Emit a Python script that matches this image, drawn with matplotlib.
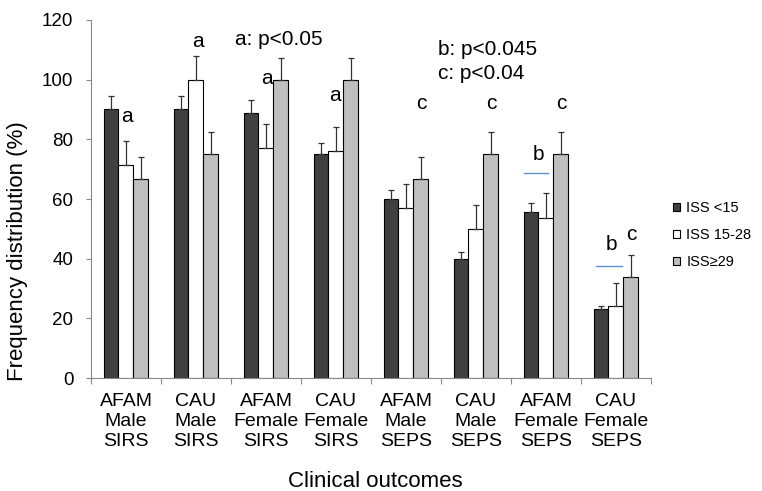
import numpy as np
import matplotlib
matplotlib.use('Agg')
import matplotlib.pyplot as plt
from matplotlib.patches import Patch

plt.rcParams['font.family'] = ['Liberation Sans', 'DejaVu Sans']

# data
categories = ['AFAM\nMale\nSIRS', 'CAU\nMale\nSIRS', 'AFAM\nFemale\nSIRS', 'CAU\nFemale\nSIRS',
              'AFAM\nMale\nSEPS', 'CAU\nMale\nSEPS', 'AFAM\nFemale\nSEPS', 'CAU\nFemale\nSEPS']
series_names = ['ISS <15', 'ISS 15-28', 'ISS\u226529']
iss_low = [90, 90, 88.7, 75, 60, 40, 55.5, 23]
iss_mid = [71.4, 100, 77, 76, 57, 50, 53.8, 24]
iss_high = [66.7, 75, 100, 100, 66.7, 75, 75, 34]
err_low = [4.5, 4.5, 4.6, 3.7, 3.0, 2.2, 3.0, 1.3]
err_mid = [8.0, 8.0, 8.0, 8.0, 8.0, 8.0, 8.1, 8.0]
err_high = [7.4, 7.3, 7.4, 7.4, 7.4, 7.3, 7.3, 7.3]

fig = plt.figure(figsize=(7.62, 4.91), dpi=100)
ax = fig.add_axes([0.1194, 0.2301, 0.8543 - 0.1194, 0.9593 - 0.2301])

x = np.arange(len(categories))
w = 0.214
colors = ['#404040', 'white', '#bfbfbf']
vals = [iss_low, iss_mid, iss_high]
errs = [err_low, err_mid, err_high]
for i in range(3):
    xs = x + (i - 1) * w
    ax.bar(xs, vals[i], width=w, color=colors[i], edgecolor='black', linewidth=0.8, zorder=2)
    ax.errorbar(xs, vals[i], yerr=[np.zeros(len(x)), errs[i]], fmt='none',
                ecolor='#333333', elinewidth=0.9, capsize=2.2, capthick=0.9, zorder=3)

ax.set_xlim(-0.5, len(categories) - 0.5)
ax.set_ylim(0, 120)
ax.set_yticks(np.arange(0, 121, 20))
ax.set_xticks(np.arange(-0.5, len(categories), 1))
ax.set_xticklabels([])
ax.set_xticks(x, minor=True)
ax.set_xticklabels(categories, minor=True, fontsize=14, linespacing=1.26)
ax.tick_params(axis='x', which='minor', length=0, pad=10.5)
ax.tick_params(axis='x', which='major', length=4, color='#888888')
ax.tick_params(axis='y', length=3.6, color='#888888', labelsize=13.5, pad=9)
for s in ['top', 'right']:
    ax.spines[s].set_visible(False)
ax.spines['left'].set_color('#888888')
ax.spines['bottom'].set_color('#888888')

fig.text(17.5 / 762, 1 - 251 / 491, 'Frequency distribution (%)', fontsize=16,
         rotation=90, ha='center', va='center')
fig.text(375 / 762, 1 - 487 / 491, 'Clinical outcomes', fontsize=16, ha='center', va='baseline')

# significance letters
fs = 15
ax.text(0.01, 85.7, 'a', fontsize=fs, ha='center', va='baseline')
ax.text(1.03, 110.8, 'a', fontsize=fs, ha='center', va='baseline')
ax.text(1.557, 111.6, 'a: p<0.05', fontsize=fs, ha='left', va='baseline')
ax.text(2.01, 98.6, 'a', fontsize=fs, ha='center', va='baseline')
ax.text(2.99, 92.9, 'a', fontsize=fs, ha='center', va='baseline')
ax.text(4.46, 108.3, 'b: p<0.045', fontsize=fs, ha='left', va='baseline')
ax.text(4.46, 100.2, 'c: p<0.04', fontsize=fs, ha='left', va='baseline')
for gx in [4.22, 5.22, 6.22]:
    ax.text(gx, 90.2, 'c', fontsize=fs, ha='center', va='baseline')
ax.text(7.22, 46.3, 'c', fontsize=fs, ha='center', va='baseline')
ax.text(5.89, 73.1, 'b', fontsize=fs, ha='center', va='baseline')
ax.text(6.94, 42.9, 'b', fontsize=fs, ha='center', va='baseline')
ax.plot([5.68, 6.03], [68.7, 68.7], color='#5b8fd6', lw=1)
ax.plot([6.72, 7.08], [37.5, 37.5], color='#5b8fd6', lw=1)

handles = [Patch(facecolor=c, edgecolor='black', linewidth=0.8) for c in colors]
fig.legend(handles, series_names, loc='center left', bbox_to_anchor=(673 / 762, 1 - 235 / 491),
           frameon=False, fontsize=10.5, handlelength=0.5, handleheight=0.5,
           handletextpad=0.4, labelspacing=0.9, borderaxespad=0, borderpad=0)

fig.savefig('out.png', dpi=100)
